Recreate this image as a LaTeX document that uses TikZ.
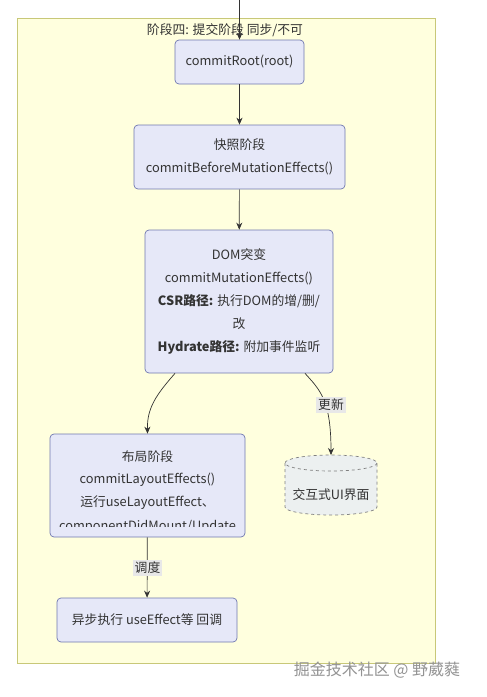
\documentclass[tikz,border=0pt]{standalone}
\usepackage{fontspec}
\setmainfont{Noto Sans CJK SC}
\usetikzlibrary{arrows.meta}
\definecolor{clfill}{HTML}{FFFFDE}
\definecolor{clstroke}{HTML}{C8C878}
\definecolor{nfill}{HTML}{E6E8F8}
\definecolor{nstroke}{HTML}{7078B0}
\definecolor{edgec}{HTML}{333333}
\definecolor{lblbg}{HTML}{E8E8E8}
\definecolor{cylfill}{HTML}{ECF0F0}
\definecolor{txt}{HTML}{333333}
\tikzset{
  proc/.style={draw=nstroke, fill=nfill, rounded corners=4pt, line width=0.7pt, align=center, font=\fontsize{12.8}{23}\selectfont, text=txt},
  ltxt/.style={font=\fontsize{12.8}{15}\selectfont, text=txt, inner sep=0pt},
  arr/.style={draw=edgec, line width=0.7pt, -{Stealth[length=7pt,width=6pt]}},
  lbl/.style={fill=lblbg, inner sep=2pt, font=\fontsize{12.8}{15}\selectfont, text=txt},
}
\begin{document}
\begin{tikzpicture}[x=1pt,y=-1pt]
\useasboundingbox (0,0) rectangle (487,697);
\fill[white] (0,0) rectangle (487,697);
\draw[clstroke, fill=clfill, line width=0.8pt] (17,18) rectangle (435,663);
\node[ltxt] (title) at (225,30) {阶段四: 提交阶段 同步/不可};
\coordinate (topin) at (239.5,0);

\node[proc, minimum width=129pt, minimum height=44pt] (root) at (239.5,62) {commitRoot(root)};
\node[proc, minimum width=211pt, minimum height=64pt] (snap) at (239.5,157) {快照阶段\\commitBeforeMutationEffects()};
\node[proc, minimum width=188pt, minimum height=143pt] (dom) at (239,301.5) {DOM突变\\commitMutationEffects()\\\textbf{CSR路径:} 执行DOM的增/删/\\改\\\textbf{Hydrate路径:} 附加事件监听};
\node[proc, minimum width=195pt, minimum height=103pt] (lay) at (147.5,485.5) {};
\begin{scope}
\clip (52,436) rectangle (243,526);
\node[ltxt] (lay1) at (147.5,457) {布局阶段};
\node[ltxt] (lay2) at (147.5,480) {commitLayoutEffects()};
\node[ltxt] (lay3) at (147.5,503) {运行useLayoutEffect、};
\node[ltxt] (lay4) at (147.5,527) {componentDidMount/Update};
\end{scope}
\node[proc, minimum width=180pt, minimum height=44pt] (async) at (147,620) {异步执行 useEffect等 回调};

% cylinder
\fill[cylfill] (285,463) -- (285,507) arc (180:0:46 and 8) -- (377,463) -- cycle;
\fill[cylfill] (331,463) ellipse (46 and 8);
\draw[dashed, gray, line width=0.7pt] (285,463) -- (285,507) arc (180:0:46 and 8) -- (377,463);
\draw[dashed, gray, line width=0.7pt] (331,463) ellipse (46 and 8);
\coordinate (cyltop) at (331,455);
\node[ltxt] (cyl) at (331,495) {交互式UI界面};

\draw[arr] (topin) -- (root.north);
\draw[arr] (root) -- (snap);
\draw[arr] (snap) -- (dom);
\draw[arr] ([xshift=-64pt]dom.south) .. controls (156,395) and (147,408) .. (lay.north);
\draw[arr] ([xshift=66pt]dom.south) .. controls (320,390) and (331,400) .. (cyltop);
\node[lbl] (l1) at (331,405) {更新};
\draw[arr] (lay) -- (async);
\node[lbl] (l2) at (147.5,568) {调度};

\node[font=\fontsize{16}{18}\selectfont, text=gray!85] (wm) at (377,670) {掘金技术社区 @ 野葳蕤};
\end{tikzpicture}
\end{document}
